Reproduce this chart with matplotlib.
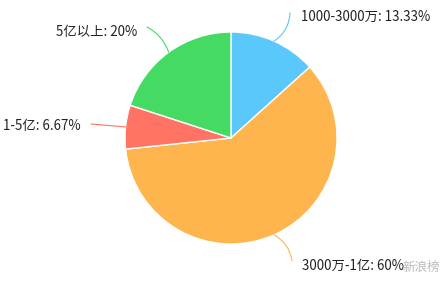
import numpy as np
import matplotlib
matplotlib.use('Agg')
import matplotlib.pyplot as plt

plt.rcParams['font.family'] = ['Noto Sans CJK SC', 'DejaVu Sans']

labels = ['1000-3000万', '3000万-1亿', '1-5亿', '5亿以上']
values = [13.33, 60, 6.67, 20]
pct_text = ['13.33%', '60%', '6.67%', '20%']
colors = ['#5AC8FA', '#FFB54E', '#FF7264', '#45DA62']

# label text position and leader end (pixel coords, y from bottom)
text_pos = [(301, 271), (302, 22), (3, 162), (56, 256)]
line_end = [(290, 275), (292, 27), (91, 164), (147, 261)]
rads = [-0.25, 0.25, 0.0, -0.2]

fig = plt.figure(figsize=(4.48, 2.88), dpi=100)
ax = fig.add_axes([0, 0, 1, 1])

cx, cy, r = 231, 150, 106
wedges, _ = ax.pie(values, colors=colors, startangle=90, counterclock=False,
                   radius=r, center=(cx, cy), frame=True,
                   wedgeprops=dict(edgecolor='white', linewidth=1))
ax.set_xlim(0, 448)
ax.set_ylim(0, 288)
ax.axis('off')

for i, w in enumerate(wedges):
    ang = np.deg2rad((w.theta1 + w.theta2) / 2)
    px = cx + r * np.cos(ang)
    py = cy + r * np.sin(ang)
    ax.annotate('', xy=(px, py), xytext=line_end[i],
                arrowprops=dict(arrowstyle='-', color=colors[i], lw=0.8,
                                shrinkA=0, shrinkB=0,
                                connectionstyle='arc3,rad=%s' % rads[i]))
    tx, ty = text_pos[i]
    ax.text(tx, ty, labels[i] + ': ' + pct_text[i], fontsize=9.6,
            ha='left', va='center', color='#222222')

ax.text(402, 21, '新浪榜', fontsize=9, color='#bbbbbb', ha='left', va='center')

fig.savefig('out.png', dpi=100)
